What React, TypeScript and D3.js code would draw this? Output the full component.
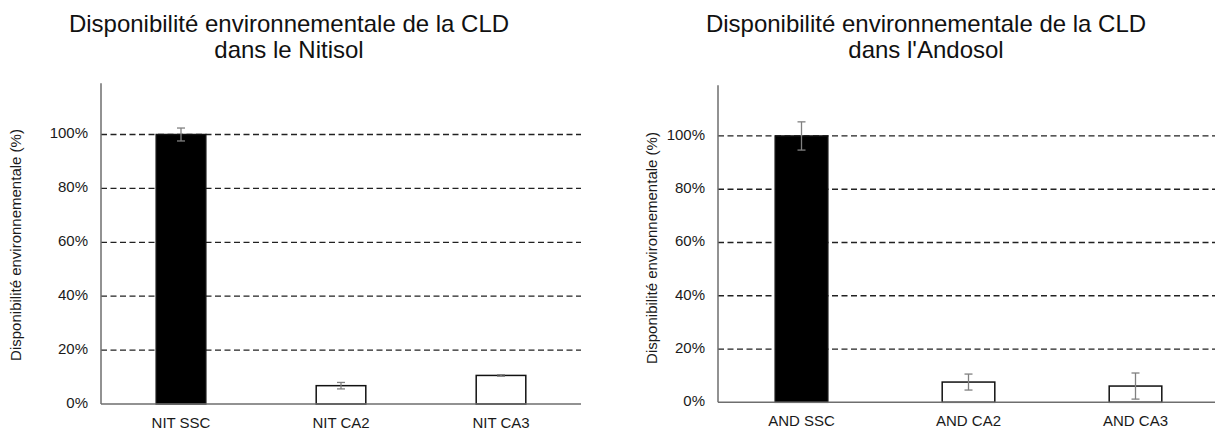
import React from "react";
import * as d3 from "d3";

const nitCategories = ["NIT SSC", "NIT CA2", "NIT CA3"];
const nitValues = [1.0, 0.068, 0.106];
const nitErrors = [0.024, 0.012, 0.003];

const andCategories = ["AND SSC", "AND CA2", "AND CA3"];
const andValues = [1.0, 0.076, 0.061];
const andErrors = [0.053, 0.03, 0.049];

const yTicks = [0, 0.2, 0.4, 0.6, 0.8, 1.0];
const barFills = ["#000000", "#ffffff", "#ffffff"];

const titleLine1 = "Disponibilité environnementale de la CLD";
const nitTitle2 = "dans le Nitisol";
const andTitle2 = "dans l'Andosol";
const yTitle = "Disponibilité environnementale (%)";

const FONT = "'Liberation Sans', Arial, sans-serif";
const W = 1215;
const H = 430;

type PanelProps = {
  cats: string[];
  vals: number[];
  errs: number[];
  title2: string;
  x0: number;
  x1: number;
  yBottom: number;
  yTop: number;
  titleCx: number;
  yTitleX: number;
  yTitleY: number;
  gridEnd: number;
  barFrac: number;
};

function Panel(p: PanelProps) {
  const x = d3
    .scaleBand<string>()
    .domain(p.cats)
    .range([p.x0, p.x1])
    .paddingInner(1 - p.barFrac)
    .paddingOuter((1 - p.barFrac) / 2);
  const y = d3.scaleLinear().domain([0, 1.2]).range([p.yBottom, p.yTop]);
  const fmt = d3.format(".0%");
  const bw = x.bandwidth();
  return (
    <g>
      <text
        x={p.titleCx}
        y={32}
        textAnchor="middle"
        fontFamily={FONT}
        fontSize={24}
        fill="#111"
      >
        {titleLine1}
      </text>
      <text
        x={p.titleCx}
        y={58}
        textAnchor="middle"
        fontFamily={FONT}
        fontSize={24}
        fill="#111"
      >
        {p.title2}
      </text>
      <text
        transform={`translate(${p.yTitleX},${p.yTitleY}) rotate(-90)`}
        textAnchor="middle"
        dominantBaseline="middle"
        fontFamily={FONT}
        fontSize={15}
        fill="#1a1a1a"
      >
        {yTitle}
      </text>
      {yTicks.map((t) => (
        <g key={t}>
          {t > 0 && (
            <line
              x1={p.x0}
              x2={p.gridEnd}
              y1={y(t)}
              y2={y(t)}
              stroke="#222"
              strokeWidth={1.3}
              strokeDasharray="6,3.5"
            />
          )}
          <text
            x={p.x0 - 13}
            y={y(t)}
            textAnchor="end"
            dominantBaseline="middle"
            fontFamily={FONT}
            fontSize={15}
            fill="#1a1a1a"
          >
            {fmt(t)}
          </text>
        </g>
      ))}
      {p.cats.map((c, i) => (
        <g key={c}>
          <rect
            x={x(c)!}
            y={y(p.vals[i])}
            width={bw}
            height={y(0) - y(p.vals[i])}
            fill={barFills[i]}
            stroke="#111"
            strokeWidth={1.5}
          />
          <line
            x1={x(c)! + bw / 2}
            x2={x(c)! + bw / 2}
            y1={y(p.vals[i] + p.errs[i])}
            y2={y(p.vals[i] - p.errs[i])}
            stroke="#808080"
            strokeWidth={1.3}
          />
          {[1, -1].map((s) => (
            <line
              key={s}
              x1={x(c)! + bw / 2 - 4}
              x2={x(c)! + bw / 2 + 4}
              y1={y(p.vals[i] + s * p.errs[i])}
              y2={y(p.vals[i] + s * p.errs[i])}
              stroke="#808080"
              strokeWidth={1.3}
            />
          ))}
          <text
            x={x(c)! + bw / 2}
            y={p.yBottom + 24}
            textAnchor="middle"
            fontFamily={FONT}
            fontSize={15}
            fill="#1a1a1a"
          >
            {c}
          </text>
        </g>
      ))}
      <line
        x1={p.x0}
        x2={p.x0}
        y1={y(0)}
        y2={y(1.19)}
        stroke="#6e6e6e"
        strokeWidth={1.5}
      />
      <line
        x1={p.x0}
        x2={p.gridEnd}
        y1={y(0)}
        y2={y(0)}
        stroke="#6e6e6e"
        strokeWidth={1.5}
      />
    </g>
  );
}

export default function App() {
  return (
    <svg
      width={W}
      height={H}
      style={{ position: "absolute", left: 0, top: 0, background: "#fff" }}
    >
      <rect width={W} height={H} fill="#fff" />
      <Panel
        cats={nitCategories}
        vals={nitValues}
        errs={nitErrors}
        title2={nitTitle2}
        x0={101}
        x1={581}
        yBottom={404}
        yTop={80.6}
        titleCx={289}
        yTitleX={17}
        yTitleY={245}
        gridEnd={581}
        barFrac={0.31}
      />
      <Panel
        cats={andCategories}
        vals={andValues}
        errs={andErrors}
        title2={andTitle2}
        x0={718}
        x1={1219}
        yBottom={402.3}
        yTop={82.7}
        titleCx={926}
        yTitleX={653}
        yTitleY={248}
        gridEnd={1215}
        barFrac={0.315}
      />
    </svg>
  );
}
